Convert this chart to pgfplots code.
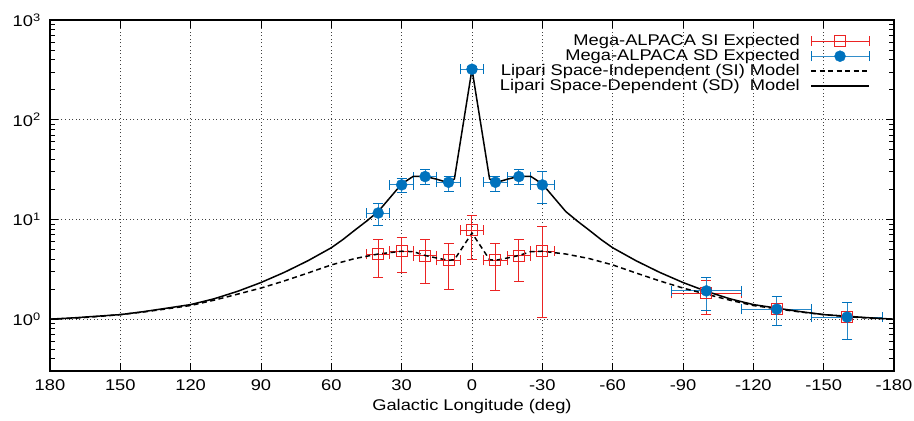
\documentclass[border=0pt]{standalone}
\usepackage{fontspec}
\setmainfont{Liberation Sans}[FakeStretch=1.18]
\usepackage{pgfplots}
\pgfplotsset{compat=1.18}
\usepackage{pgfplotstable}
\definecolor{sdblue}{RGB}{0,114,189}
\definecolor{sired}{RGB}{235,35,35}

\pgfplotstableread{
x y xe ep em
40 4.47 5 1.80 1.88
30 4.79 5 1.87 1.86
20 4.30 5 2.01 2.03
10 3.89 5 1.82 1.89
0 7.76 5 3.24 3.81
-10 3.89 5 1.82 1.94
-20 4.30 5 1.97 1.94
-30 4.79 5 3.79 3.74
-100 1.81 15 0.64 0.69
-130 1.26 15 0.41 0.40
-160 1.05 15 0.42 0.42
}\sidata

\pgfplotstableread{
x y xe ep em
40 11.6 5 3.0 2.9
30 22.2 5 3.7 3.4
20 26.9 5 4.7 4.7
10 23.6 5 3.3 4.4
0 321 5 20 20
-10 23.6 5 3.3 4.4
-20 26.9 5 4.7 4.7
-30 22.2 5 8.2 7.6
-100 1.92 15 0.69 0.69
-130 1.26 15 0.41 0.40
-160 1.05 15 0.42 0.42
}\sddata

\pgfplotstableread{
x y
180 1.0
170 1.02
160 1.06
150 1.11
140 1.18
130 1.27
120 1.37
110 1.55
100 1.78
90 2.05
80 2.42
70 2.90
60 3.50
50 4.05
40 4.5
30 4.8
25 4.75
20 4.35
15 4.1
10 3.89
7.5 3.95
0 7.3
-7.5 3.95
-10 3.89
-15 4.1
-20 4.35
-25 4.75
-30 4.8
-40 4.5
-50 4.05
-60 3.50
-70 2.90
-80 2.42
-90 2.05
-100 1.78
-110 1.55
-120 1.37
-130 1.27
-140 1.18
-150 1.11
-160 1.06
-170 1.02
-180 1.0
}\simodel

\pgfplotstableread{
x y
180 1.0
170 1.03
160 1.07
150 1.11
140 1.19
130 1.29
120 1.40
110 1.60
100 1.90
90 2.33
80 2.95
70 3.85
60 5.2
55 6.3
50 7.8
45 9.6
40 12
35 16.5
30 22.7
25 27.1
20 27.0
15 25.3
10 23.3
7.5 25.5
0 321
-7.5 25.5
-10 23.3
-15 25.3
-20 27.0
-25 27.1
-30 22.7
-35 16.5
-40 12
-45 9.6
-50 7.8
-55 6.3
-60 5.2
-70 3.85
-80 2.95
-90 2.33
-100 1.90
-110 1.60
-120 1.40
-130 1.29
-140 1.19
-150 1.11
-160 1.07
-170 1.03
-180 1.0
}\sdmodel

\begin{document}
\fontsize{15.5bp}{18bp}\selectfont
\begin{tikzpicture}
\begin{axis}[
  at={(0,0)}, anchor=south west,
  scale only axis,
  width=844bp, height=351bp,
  ymode=log,
  xmin=-180, xmax=180, ymin=0.302, ymax=1000,
  x dir=reverse,
  xtick={-180,-150,...,180},
  ytick={1,10,100,1000},
  minor ytick={0.4,0.5,0.6,0.7,0.8,0.9,2,3,4,5,6,7,8,9,20,30,40,50,60,70,80,90,200,300,400,500,600,700,800,900},
  yticklabels={10\textsuperscript{0},10\textsuperscript{1},10\textsuperscript{2},10\textsuperscript{3}},
  /pgf/number format/assume math mode=true,
  ticklabel style={font=\fontsize{15.5bp}{18bp}\selectfont},
  xticklabel style={yshift=-3bp},
  yticklabel style={xshift=-4bp},
  major tick length=8bp, minor tick length=5bp,
  tick style={black, line width=0.8bp},
  axis line style={line width=1.6bp},
  grid=major,
  major grid style={black!75, line width=0.8bp, dash pattern=on 1bp off 2.6bp},
  xlabel={Galactic Longitude (deg)},
  xlabel style={font=\fontsize{15.5bp}{18bp}\selectfont, yshift=2bp},
  legend plot pos=right,
  legend cell align=right,
  legend style={draw=none, fill=none, at={(axis description cs:1,1)}, anchor=north east,
    xshift=-21bp, yshift=-11.5bp, row sep=0bp,
    font=\fontsize{15.5bp}{18bp}\selectfont,
    nodes={text height=11bp, text depth=3bp, inner sep=0.5bp},
    column sep=10bp},
]
\addplot[only marks, mark=square, mark size=5.5bp, sired, line width=1bp,
  legend image code/.code={
    \draw[sired, line width=1bp] (0bp,0bp) -- (58bp,0bp);
    \draw[sired, line width=1bp] (0bp,-5bp) -- (0bp,5bp) (58bp,-5bp) -- (58bp,5bp);
    \draw[sired, line width=1bp] (23.5bp,-5.5bp) rectangle (34.5bp,5.5bp);
  },
  error bars/.cd, x dir=both, x explicit, y dir=both, y explicit,
  error bar style={sired, line width=1bp},
  error mark options={rotate=90, mark size=5bp, sired, line width=1bp}]
  table[x=x, y=y, x error=xe, y error plus=ep, y error minus=em] {\sidata};
\addlegendentry{Mega-ALPACA SI Expected}
\addplot[only marks, mark=*, mark size=5.5bp, sdblue,
  legend image code/.code={
    \draw[sdblue!80!white, line width=1bp] (0bp,0bp) -- (58bp,0bp);
    \draw[sdblue, line width=1bp] (0bp,-5bp) -- (0bp,5bp) (58bp,-5bp) -- (58bp,5bp);
    \fill[sdblue] (29bp,0bp) circle (5.5bp);
  },
  error bars/.cd, x dir=both, x explicit, y dir=both, y explicit,
  error bar style={sdblue!85!white, line width=1bp},
  error mark options={rotate=90, mark size=5bp, sdblue, line width=1bp}]
  table[x=x, y=y, x error=xe, y error plus=ep, y error minus=em] {\sddata};
\addlegendentry{Mega-ALPACA SD Expected}
\addplot[black, line width=1.5bp, dash pattern=on 5bp off 3.5bp,
  legend image code/.code={\draw[black, line width=1.5bp, dash pattern=on 5bp off 3.5bp] (0bp,0bp) -- (58bp,0bp);}]
  table[x=x,y=y] {\simodel};
\addlegendentry{Lipari Space-Independent (SI) Model}
\addplot[black, line width=1.5bp,
  legend image code/.code={\draw[black, line width=1.5bp] (0bp,0bp) -- (58bp,0bp);}]
  table[x=x,y=y] {\sdmodel};
\addlegendentry{Lipari Space-Dependent (SD)~ Model}
\end{axis}
\pgfresetboundingbox
\path[use as bounding box] (-50bp,-50bp) rectangle (864bp,371bp);
\end{tikzpicture}
\end{document}
